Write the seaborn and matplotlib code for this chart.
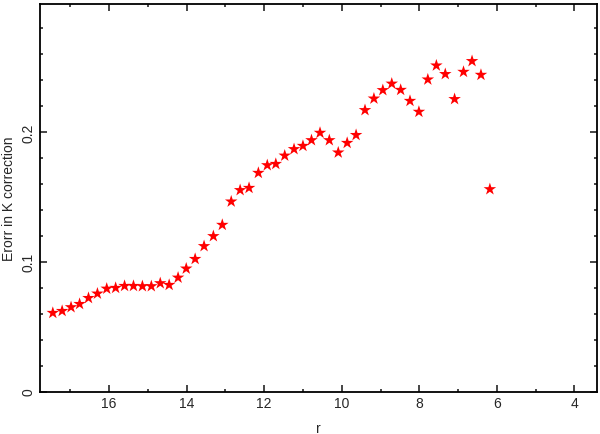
import matplotlib
matplotlib.use('Agg')
import matplotlib.ticker as ticker
from matplotlib import pyplot as plt
import seaborn as sns
import pandas as pd

# r magnitude bins and K-correction error
r_mag = [17.45, 17.21, 16.98, 16.76, 16.53, 16.30, 16.06, 15.83, 15.60, 15.37,
         15.14, 14.91, 14.68, 14.45, 14.22, 14.01, 13.78, 13.55, 13.31, 13.08,
         12.85, 12.62, 12.39, 12.15, 11.92, 11.70, 11.47, 11.23, 11.00, 10.78,
         10.56, 10.32, 10.09, 9.86, 9.63, 9.40, 9.17, 8.94, 8.71, 8.48,
         8.24, 8.01, 7.78, 7.56, 7.33, 7.09, 6.86, 6.64, 6.41, 6.18]
k_err = [0.0606, 0.0621, 0.0650, 0.0675, 0.0721, 0.0755, 0.0793, 0.0799, 0.0814, 0.0814,
         0.0812, 0.0812, 0.0835, 0.0822, 0.0878, 0.0948, 0.1022, 0.1121, 0.1198, 0.1285,
         0.1465, 0.1553, 0.1570, 0.1686, 0.1745, 0.1755, 0.1819, 0.1869, 0.1894, 0.1938,
         0.1995, 0.1938, 0.1843, 0.1917, 0.1978, 0.2170, 0.2259, 0.2324, 0.2374, 0.2326,
         0.2241, 0.2157, 0.2406, 0.2514, 0.2448, 0.2255, 0.2465, 0.2548, 0.2442, 0.1560]

sns.set_style('ticks')
plt.rcParams['font.family'] = ['Liberation Sans', 'DejaVu Sans']

df = pd.DataFrame({'r': r_mag, 'err': k_err})

fig = plt.figure(figsize=(6, 4.35), dpi=100)
ax = fig.add_axes([0.0667, 0.0977, 0.9288, 0.8913])
sns.scatterplot(data=df, x='r', y='err', marker='*', color='#ff0000',
                s=90, edgecolor='none', ax=ax)

ax.set_xlim(17.78, 3.41)
ax.set_ylim(0, 0.299)
ax.xaxis.set_major_locator(ticker.MultipleLocator(2))
ax.xaxis.set_minor_locator(ticker.MultipleLocator(1))
ax.yaxis.set_major_locator(ticker.MultipleLocator(0.1))
ax.yaxis.set_minor_locator(ticker.MultipleLocator(0.02))
ax.yaxis.set_major_formatter(ticker.FuncFormatter(lambda y, pos: f'{y:g}'))
ax.tick_params(which='both', direction='in', top=True, right=True, width=1.2, labelsize=10)
ax.tick_params(which='major', length=5)
ax.tick_params(which='minor', length=2.5)
for lbl in ax.get_yticklabels():
    lbl.set_rotation(90)
    lbl.set_va('center')
for sp in ax.spines.values():
    sp.set_linewidth(1.3)
    sp.set_color('black')

ax.set_xlabel('r', fontsize=10, labelpad=8)
ax.set_ylabel('Erorr in K correction', fontsize=10, labelpad=4)

fig.savefig('out.png', dpi=100)
